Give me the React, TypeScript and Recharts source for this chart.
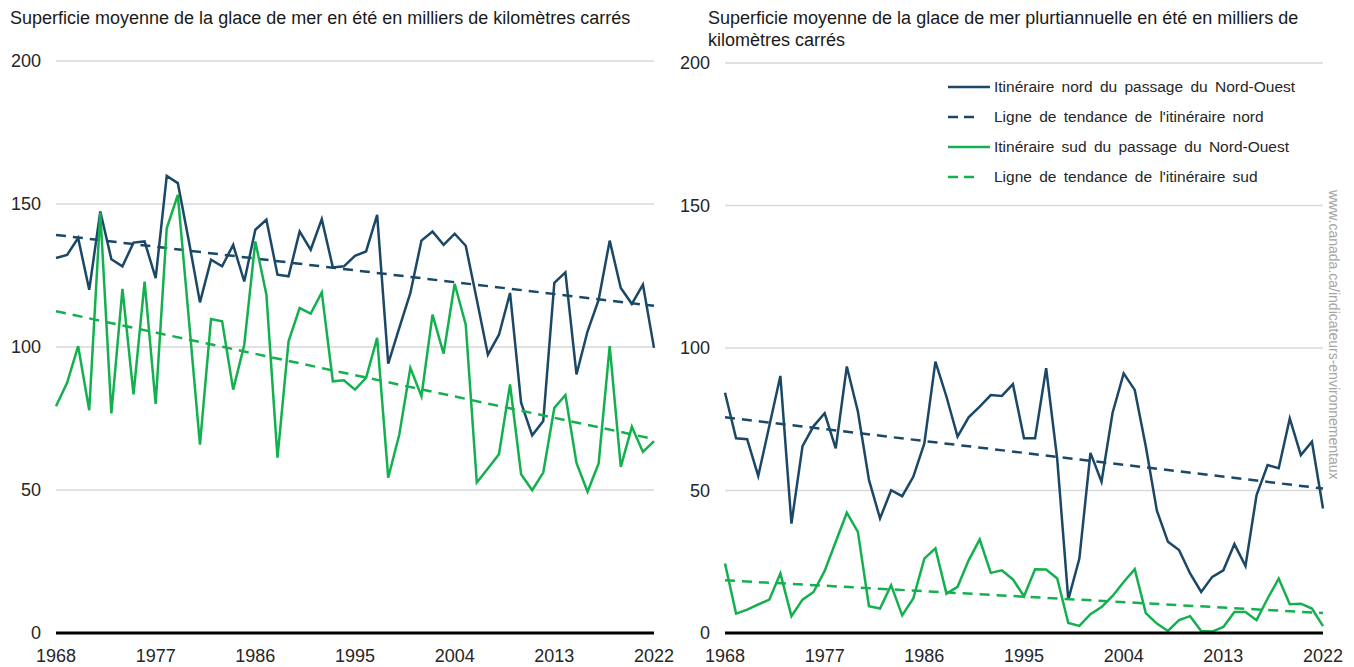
import React from "react";
import { CartesianGrid, Line, LineChart, XAxis, YAxis } from "recharts";

const years = [
  1968, 1969, 1970, 1971, 1972, 1973, 1974, 1975, 1976, 1977, 1978, 1979,
  1980, 1981, 1982, 1983, 1984, 1985, 1986, 1987, 1988, 1989,
  1990, 1991, 1992, 1993, 1994, 1995, 1996, 1997, 1998, 1999,
  2000, 2001, 2002, 2003, 2004, 2005, 2006, 2007, 2008, 2009,
  2010, 2011, 2012, 2013, 2014, 2015, 2016, 2017, 2018, 2019,
  2020, 2021, 2022,
];
const xTicks = [1968, 1977, 1986, 1995, 2004, 2013, 2022];
const yTicks = [0, 50, 100, 150, 200];

// glace de mer en été (gauche)
const totalNord = [
  131.1, 132.2, 138.1, 120.0, 147.4, 130.7, 128.2, 136.5, 136.9, 124.1, 159.8, 157.3,
  137.0, 115.6, 130.5, 128.2, 135.7, 122.9, 141.0, 144.5, 125.3, 124.7,
  140.4, 134.0, 144.7, 127.8, 128.2, 131.9, 133.4, 146.2, 94.2, 106.7,
  118.9, 137.2, 140.4, 135.7, 139.6, 135.4, 116.5, 97.3, 104.3, 118.9,
  80.5, 69.1, 74.1, 122.4, 126.1, 90.4, 105.5, 116.5, 137.2, 120.6,
  115.1, 121.8, 99.7,
];
const totalSud = [
  79.3, 87.5, 100.3, 77.9, 147.0, 76.8, 120.3, 83.4, 122.9, 80.1, 141.5, 153.2,
  109.6, 65.9, 109.8, 109.0, 85.1, 100.8, 136.9, 118.3, 61.3, 102.0,
  113.6, 111.7, 119.1, 88.0, 88.4, 85.1, 89.2, 103.2, 54.3, 69.4,
  92.7, 82.8, 111.3, 97.7, 122.1, 107.8, 52.6, 57.5, 62.5, 86.9,
  55.5, 49.9, 56.1, 78.7, 83.2, 59.5, 49.4, 59.3, 100.3, 58.1,
  72.1, 63.3, 67.1,
];
const totalNordTrend = [139.2, 114.4];
const totalSudTrend = [112.5, 67.8];

// glace pluriannuelle (droite)
const multiNord = [
  84.3, 68.3, 68.0, 55.1, 72.6, 90.2, 38.4, 65.6, 72.6, 77.1, 64.8, 93.5,
  77.7, 53.7, 40.2, 50.1, 48.0, 54.8, 66.5, 95.2, 82.9, 68.9,
  75.7, 79.4, 83.5, 83.2, 87.3, 68.3, 68.3, 92.9, 61.0, 11.7,
  26.1, 63.2, 53.1, 77.3, 91.1, 85.3, 65.4, 42.9, 32.0, 29.1,
  20.9, 14.4, 19.7, 22.0, 31.2, 23.5, 48.4, 58.9, 57.8, 75.3,
  62.4, 67.1, 43.7,
];
const multiSud = [
  24.4, 6.8, 8.2, 10.0, 11.7, 20.9, 5.9, 11.7, 14.4, 21.8, 32.0, 42.2,
  35.5, 9.4, 8.6, 16.8, 6.2, 12.1, 26.1, 29.7, 13.8, 16.2,
  25.5, 32.8, 21.1, 22.0, 18.8, 12.9, 22.4, 22.3, 19.1, 3.5,
  2.5, 6.6, 9.1, 13.0, 17.9, 22.4, 7.0, 3.3, 0.7, 4.5,
  5.9, 0.7, 0.5, 2.1, 7.4, 7.4, 4.5, 12.1, 19.1, 10.1,
  10.3, 8.6, 2.4,
];
const multiNordTrend = [75.7, 50.7];
const multiSudTrend = [18.5, 7.0];

const NAVY = "#1a4866";
const GREEN = "#14b04f";
const FONT = "'Liberation Sans', Arial, sans-serif";

const legendItems = [
  { label: "Itinéraire nord du passage du Nord-Ouest", color: NAVY, dashed: false },
  { label: "Ligne de tendance de l'itinéraire nord", color: NAVY, dashed: true },
  { label: "Itinéraire sud du passage du Nord-Ouest", color: GREEN, dashed: false },
  { label: "Ligne de tendance de l'itinéraire sud", color: GREEN, dashed: true },
];

type PanelProps = {
  nord: number[];
  sud: number[];
  nordTrend: number[];
  sudTrend: number[];
  top: number;
};

const Panel = ({ nord, sud, nordTrend, sudTrend, top }: PanelProps) => {
  const rows = years.map((year, i) => ({ year, nord: nord[i], sud: sud[i] }));
  const first = years[0];
  const last = years[years.length - 1];
  const nordLine = [
    { year: first, trend: nordTrend[0] },
    { year: last, trend: nordTrend[1] },
  ];
  const sudLine = [
    { year: first, trend: sudTrend[0] },
    { year: last, trend: sudTrend[1] },
  ];
  const tickStyle = { fill: "#262626", fontSize: 18, fontFamily: FONT };

  return (
    <LineChart
      width={684}
      height={667}
      data={rows}
      margin={{ top, right: 30, left: 0, bottom: 0 }}
    >
      <CartesianGrid vertical={false} stroke="#d9d9d9" strokeWidth={1.5} />
      <XAxis
        dataKey="year"
        type="number"
        domain={[first, last]}
        ticks={xTicks}
        interval={0}
        height={34}
        tickLine={false}
        tickSize={0}
        tickMargin={16}
        axisLine={{ stroke: "#000", strokeWidth: 3 }}
        tick={tickStyle}
        allowDuplicatedCategory={false}
      />
      <YAxis
        domain={[0, 200]}
        ticks={yTicks}
        width={56}
        axisLine={false}
        tickLine={false}
        tickSize={0}
        tickMargin={15}
        tick={tickStyle}
      />
      <Line
        dataKey="nord"
        type="linear"
        stroke={NAVY}
        strokeWidth={2.5}
        dot={false}
        isAnimationActive={false}
      />
      <Line
        data={nordLine}
        dataKey="trend"
        type="linear"
        stroke={NAVY}
        strokeWidth={2.5}
        strokeDasharray="10 7"
        dot={false}
        isAnimationActive={false}
      />
      <Line
        dataKey="sud"
        type="linear"
        stroke={GREEN}
        strokeWidth={2.5}
        dot={false}
        isAnimationActive={false}
      />
      <Line
        data={sudLine}
        dataKey="trend"
        type="linear"
        stroke={GREEN}
        strokeWidth={2.5}
        strokeDasharray="10 7"
        dot={false}
        isAnimationActive={false}
      />
    </LineChart>
  );
};

export default function App() {
  const titleStyle: React.CSSProperties = {
    position: "absolute",
    fontFamily: FONT,
    fontSize: 18,
    lineHeight: "22px",
    color: "#1a1a1a",
    whiteSpace: "nowrap",
  };
  return (
    <div
      style={{
        position: "absolute",
        left: 0,
        top: 0,
        width: 1354,
        height: 667,
        background: "#fff",
        overflow: "hidden",
      }}
    >
      <div style={{ position: "absolute", left: 0, top: 0 }}>
        <Panel
          nord={totalNord}
          sud={totalSud}
          nordTrend={totalNordTrend}
          sudTrend={totalSudTrend}
          top={61}
        />
      </div>
      <div style={{ position: "absolute", left: 669, top: 0 }}>
        <Panel
          nord={multiNord}
          sud={multiSud}
          nordTrend={multiNordTrend}
          sudTrend={multiSudTrend}
          top={63}
        />
      </div>
      <div style={{ ...titleStyle, left: 10, top: 7 }}>
        Superficie moyenne de la glace de mer en été en milliers de kilomètres carrés
      </div>
      <div style={{ ...titleStyle, left: 708, top: 7 }}>
        Superficie moyenne de la glace de mer plurtiannuelle en été en milliers de
        <br />
        kilomètres carrés
      </div>
      <div
        style={{
          position: "absolute",
          left: 948,
          top: 72,
          fontFamily: FONT,
          fontSize: 15.5,
          color: "#262626",
        }}
      >
        {legendItems.map((item) => (
          <div
            key={item.label}
            style={{ display: "flex", alignItems: "center", height: 30 }}
          >
            <svg width={46} height={10}>
              <line
                x1={0}
                y1={5}
                x2={item.dashed ? 28 : 42}
                y2={5}
                stroke={item.color}
                strokeWidth={2.5}
                strokeDasharray={item.dashed ? "10 6" : undefined}
              />
            </svg>
            <span style={{ wordSpacing: 3 }}>{item.label}</span>
          </div>
        ))}
      </div>
      <div
        style={{
          position: "absolute",
          left: 1326,
          top: 190,
          writingMode: "vertical-rl",
          fontFamily: FONT,
          fontSize: 14,
          color: "#a6a6a6",
          whiteSpace: "nowrap",
        }}
      >
        www.canada.ca/indicateurs-environnementaux
      </div>
    </div>
  );
}
